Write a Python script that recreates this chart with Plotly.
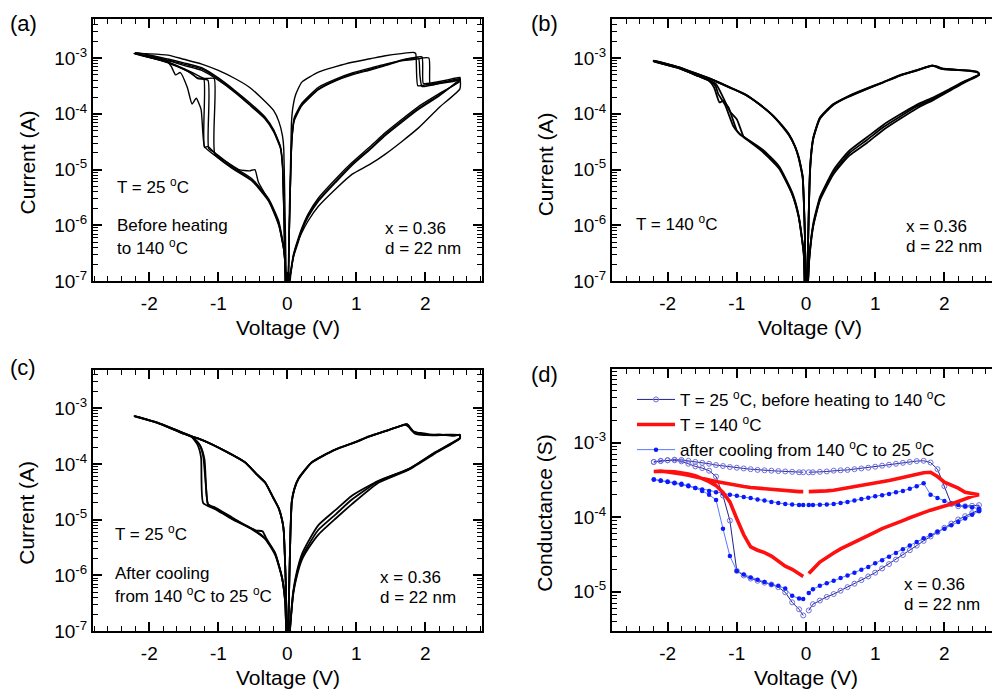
import math
import plotly.graph_objects as go

W, H = 992, 698
FONT = "Arial, 'Liberation Sans', Helvetica, sans-serif"

# Current values at V = 0 sit below the plotted decades (|I| -> 0 on a log axis)
I0 = 2e-8

# ---------------- panel (a): T = 25 C, before heating -----------------
A1_LRSP_V = [0, 0.03, 0.05, 0.06, 0.08, 0.12, 0.21, 0.45, 0.7, 0.94, 1.2, 1.42, 1.65, 1.83, 1.86, 1.89, 2.0, 2.2, 2.4, 2.5]
A1_LRSP_I = [I0, 2e-6, 2e-5, 7e-5, 1.3e-4, 2.2e-4, 3.7e-4, 5.6e-4, 7e-4, 8.4e-4, 9.7e-4, 1.1e-3, 1.2e-3, 1.26e-3, 1.2e-3, 3.2e-4, 3.3e-4, 3.6e-4, 3.9e-4, 4.2e-4]
A1_HRSP_V = [2.5, 2.2, 1.9, 1.66, 1.42, 1.2, 0.94, 0.7, 0.45, 0.3, 0.2, 0.12, 0.07, 0.04, 0]
A1_HRSP_I = [2.8e-4, 1.3e-4, 5.6e-5, 3.2e-5, 1.9e-5, 1.25e-5, 8.3e-6, 4.5e-6, 2.2e-6, 1.2e-6, 7e-7, 4e-7, 2e-7, 1e-7, I0]
A1_HRSN_V = [-0.02, -0.05, -0.125, -0.27, -0.51, -0.8, -1.05, -1.06, -1.2, -1.39, -1.73, -2.22]
A1_HRSN_I = [1e-7, 3.7e-7, 1.1e-6, 2.85e-6, 6.4e-6, 1.1e-5, 1.9e-5, 4.3e-4, 4.3e-4, 5.6e-4, 8.4e-4, 1.2e-3]
A1_LRSN_V = [-2.22, -1.73, -1.5, -1.24, -1.0, -0.76, -0.55, -0.37, -0.2, -0.125, -0.07, -0.053, -0.045, -0.03, -0.015, 0]
A1_LRSN_I = [1.21e-3, 1.13e-3, 9.5e-4, 7.8e-4, 6e-4, 4.3e-4, 3e-4, 1.9e-4, 1.15e-4, 7.4e-5, 4e-5, 2.5e-5, 1e-5, 1e-6, 1e-7, I0]

A_HRSP_V = [2.5, 2.2, 1.9, 1.66, 1.42, 1.2, 0.94, 0.7, 0.45, 0.3, 0.21, 0.15, 0.087, 0.05, 0.02, 0]
A_LRSN_V = [-2.2, -1.73, -1.5, -1.24, -1.0, -0.756, -0.55, -0.32, -0.2, -0.1, -0.07, -0.06, -0.045, -0.03, 0]

A2_LRSP_V = [0, 0.03, 0.05, 0.064, 0.1, 0.21, 0.45, 0.7, 0.94, 1.2, 1.42, 1.66, 1.8, 1.95, 1.97, 2.1, 2.3, 2.5]
A2_LRSP_I = [I0, 1e-6, 1e-5, 3.5e-5, 8e-5, 1.45e-4, 2.8e-4, 4e-4, 5.2e-4, 6.3e-4, 7.5e-4, 9.3e-4, 1.0e-3, 1.05e-3, 3.5e-4, 3.6e-4, 4e-4, 4.5e-4]
A2_HRSP_I = [4e-4, 2.2e-4, 1.26e-4, 7.5e-5, 4.3e-5, 2.4e-5, 1.26e-5, 6.2e-6, 2.85e-6, 1.5e-6, 8.5e-7, 5e-7, 2.8e-7, 1.5e-7, 1e-7, I0]
A2_HRSN_V = [-0.02, -0.052, -0.125, -0.27, -0.51, -0.8, -1.05, -1.14, -1.15, -1.3, -1.39, -1.73, -2.2]
A2_HRSN_I = [1.2e-7, 4e-7, 1.2e-6, 3e-6, 6.8e-6, 1.15e-5, 2e-5, 2.4e-5, 4e-4, 4.3e-4, 5.4e-4, 8.2e-4, 1.2e-3]
A2_LRSN_I = [1.2e-3, 9.2e-4, 7.8e-4, 6.4e-4, 4.2e-4, 2.5e-4, 1.5e-4, 8.3e-5, 5e-5, 2.5e-5, 1.2e-5, 5e-6, 1e-6, 1e-7, I0]

A3_LRSP_V = [0, 0.03, 0.05, 0.07, 0.1, 0.21, 0.45, 0.7, 0.94, 1.2, 1.42, 1.66, 1.85, 2.05, 2.07, 2.2, 2.4, 2.5]
A3_LRSP_I = [I0, 1e-6, 1.1e-5, 4e-5, 8.5e-5, 1.55e-4, 3e-4, 4.2e-4, 5.4e-4, 6.6e-4, 7.8e-4, 9e-4, 9.5e-4, 1.0e-3, 3.3e-4, 3.5e-4, 3.8e-4, 4e-4]
A3_HRSP_I = [3.8e-4, 2.3e-4, 1.35e-4, 8e-5, 4.6e-5, 2.6e-5, 1.35e-5, 6.8e-6, 3.1e-6, 1.6e-6, 9e-7, 5.5e-7, 3e-7, 1.6e-7, 1e-7, I0]
A3_HRSN_V = [-0.02, -0.05, -0.125, -0.27, -0.51, -0.8, -1.05, -1.2, -1.21, -1.3, -1.45, -1.73, -2.2]
A3_HRSN_I = [1e-7, 3.5e-7, 1.0e-6, 2.7e-6, 6.2e-6, 1.05e-5, 1.8e-5, 2.6e-5, 4.2e-4, 4.4e-4, 5.8e-4, 8.4e-4, 1.2e-3]
A3_LRSN_I = [1.2e-3, 9e-4, 7.4e-4, 6e-4, 4e-4, 2.4e-4, 1.45e-4, 8e-5, 4.8e-5, 2.4e-5, 1.1e-5, 4.5e-6, 9e-7, 1e-7, I0]

A4_LRSP_V = [0, 0.03, 0.05, 0.064, 0.1, 0.21, 0.45, 0.7, 0.94, 1.2, 1.42, 1.66, 1.8, 1.9, 1.92, 1.95, 2.1, 2.3, 2.5]
A4_LRSP_I = [I0, 1e-6, 1e-5, 3.2e-5, 7.5e-5, 1.4e-4, 2.7e-4, 3.9e-4, 5e-4, 6.1e-4, 7.3e-4, 9e-4, 9.8e-4, 1.0e-3, 5e-4, 3.1e-4, 3.3e-4, 3.8e-4, 4.3e-4]
A4_HRSP_I = [4.2e-4, 2.1e-4, 1.2e-4, 7.1e-5, 4.1e-5, 2.3e-5, 1.2e-5, 5.9e-6, 2.7e-6, 1.4e-6, 8e-7, 4.7e-7, 2.7e-7, 1.4e-7, 1e-7, I0]
A4_HRSN_V = [-0.02, -0.05, -0.125, -0.27, -0.42, -0.47, -0.55, -0.7, -0.85, -1.0, -1.15, -1.2, -1.25, -1.32, -1.38, -1.45, -1.55, -1.62, -1.68, -1.75, -2.2]
A4_HRSN_I = [1e-7, 3.5e-7, 1.05e-6, 2.8e-6, 6e-6, 1e-5, 9.5e-6, 1e-5, 1.3e-5, 1.7e-5, 2.6e-5, 2.5e-5, 1.2e-4, 1.9e-4, 1.5e-4, 3e-4, 5.5e-4, 5e-4, 7e-4, 9e-4, 1.2e-3]
A4_LRSN_I = [1.25e-3, 9.6e-4, 8.2e-4, 6.7e-4, 4.4e-4, 2.6e-4, 1.6e-4, 8.7e-5, 5.2e-5, 2.6e-5, 1.3e-5, 5.5e-6, 1.1e-6, 1e-7, I0]

# ---------------- panel (b): T = 140 C -----------------
B_HRSP_V = [2.5, 2.3, 2.08, 1.85, 1.6, 1.35, 1.12, 0.88, 0.63, 0.5, 0.39, 0.3, 0.2, 0.106, 0.048, 0.03, 0]
B_LRSN_V = [-2.2, -1.84, -1.6, -1.36, -1.1, -0.877, -0.68, -0.49, -0.35, -0.25, -0.16, -0.106, -0.07, -0.048, -0.03, -0.015, 0]

B1_LRSP_V = [0, 0.03, 0.045, 0.058, 0.08, 0.106, 0.2, 0.39, 0.6, 0.877, 1.1, 1.36, 1.6, 1.82, 1.9, 1.97, 2.15, 2.36, 2.48, 2.5]
B1_LRSP_I = [I0, 5e-7, 3e-6, 9.5e-6, 2.2e-5, 3.7e-5, 8.3e-5, 1.45e-4, 2e-4, 2.8e-4, 3.6e-4, 4.9e-4, 6e-4, 7.3e-4, 7e-4, 6.4e-4, 6.2e-4, 6e-4, 5.6e-4, 5.2e-4]
B1_HRSP_I = [5e-4, 3.9e-4, 2.8e-4, 2e-4, 1.45e-4, 9.6e-5, 6.4e-5, 3.8e-5, 2.2e-5, 1.45e-5, 9.5e-6, 5.8e-6, 3.2e-6, 1.1e-6, 2.8e-7, 1e-7, I0]
B1_HRSN_V = [-0.02, -0.033, -0.106, -0.2, -0.39, -0.63, -0.877, -0.97, -1.05, -1.17, -1.27, -1.31, -1.41, -1.6, -1.84, -2.2]
B1_HRSN_I = [1e-7, 3.2e-7, 1.45e-6, 3.7e-6, 1.1e-5, 2.2e-5, 3.7e-5, 4.5e-5, 6e-5, 1.45e-4, 2.3e-4, 3.2e-4, 4e-4, 5e-4, 6.6e-4, 8.8e-4]
B1_LRSN_I = [8.9e-4, 6.8e-4, 5.3e-4, 4.1e-4, 2.95e-4, 2.2e-4, 1.5e-4, 9.6e-5, 6.2e-5, 4.3e-5, 2.6e-5, 1.65e-5, 1.05e-5, 7.4e-6, 2.5e-6, 6e-7, I0]

B2_LRSP_V = [0, 0.03, 0.045, 0.058, 0.08, 0.106, 0.2, 0.39, 0.6, 0.877, 1.1, 1.36, 1.6, 1.8, 1.88, 1.97, 2.2, 2.4, 2.48, 2.5]
B2_LRSP_I = [I0, 5e-7, 3.2e-6, 1e-5, 2.3e-5, 3.8e-5, 8.5e-5, 1.48e-4, 2.05e-4, 2.85e-4, 3.65e-4, 4.95e-4, 6.1e-4, 7.2e-4, 7.1e-4, 6.5e-4, 6.1e-4, 5.8e-4, 5.5e-4, 5.3e-4]
B2_HRSP_I = [5.1e-4, 3.8e-4, 2.7e-4, 1.9e-4, 1.35e-4, 8.8e-5, 5.8e-5, 3.4e-5, 2e-5, 1.3e-5, 8.6e-6, 5.3e-6, 2.9e-6, 1e-6, 2.6e-7, 1e-7, I0]
B2_HRSN_V = [-0.02, -0.033, -0.106, -0.2, -0.39, -0.63, -0.877, -0.95, -1.0, -1.12, -1.2, -1.25, -1.33, -1.41, -1.6, -1.84, -2.2]
B2_HRSN_I = [1e-7, 3.3e-7, 1.5e-6, 3.9e-6, 1.15e-5, 2.3e-5, 3.7e-5, 4.2e-5, 5e-5, 1.3e-4, 1.7e-4, 1.6e-4, 3e-4, 4e-4, 5e-4, 6.6e-4, 8.7e-4]
B2_LRSN_I = [8.8e-4, 6.8e-4, 5.3e-4, 4.1e-4, 2.95e-4, 2.2e-4, 1.5e-4, 9.5e-5, 6.1e-5, 4.2e-5, 2.6e-5, 1.6e-5, 1e-5, 7e-6, 2.3e-6, 5.5e-7, I0]

B3_LRSP_V = [0, 0.03, 0.045, 0.058, 0.08, 0.106, 0.2, 0.39, 0.6, 0.877, 1.1, 1.36, 1.6, 1.83, 1.92, 2.0, 2.2, 2.38, 2.46, 2.5]
B3_LRSP_I = [I0, 4.8e-7, 2.9e-6, 9.2e-6, 2.1e-5, 3.6e-5, 8.1e-5, 1.43e-4, 1.98e-4, 2.78e-4, 3.58e-4, 4.85e-4, 5.95e-4, 7.35e-4, 6.6e-4, 6.3e-4, 6.1e-4, 5.9e-4, 5.7e-4, 5.2e-4]
B3_HRSP_I = [4.9e-4, 3.7e-4, 2.6e-4, 1.8e-4, 1.25e-4, 8e-5, 5.2e-5, 3e-5, 1.8e-5, 1.2e-5, 8e-6, 5e-6, 2.8e-6, 1e-6, 2.5e-7, 1e-7, I0]
B3_HRSN_V = [-0.02, -0.033, -0.106, -0.2, -0.39, -0.63, -0.877, -0.9, -1.0, -1.1, -1.2, -1.3, -1.41, -1.6, -1.84, -2.2]
B3_HRSN_I = [1e-7, 3.1e-7, 1.4e-6, 3.6e-6, 1.05e-5, 2.1e-5, 3.6e-5, 3.8e-5, 8e-5, 1.1e-4, 2e-4, 3.4e-4, 4e-4, 5e-4, 6.7e-4, 8.9e-4]
B3_LRSN_I = [9e-4, 6.9e-4, 5.35e-4, 4.15e-4, 3e-4, 2.25e-4, 1.52e-4, 9.7e-5, 6.3e-5, 4.4e-5, 2.65e-5, 1.7e-5, 1.07e-5, 7.6e-6, 2.6e-6, 6.2e-7, I0]

# ---------------- panel (c): T = 25 C, after cooling -----------------
C_HRSP_V = [2.5, 2.14, 1.76, 1.32, 0.935, 0.7, 0.45, 0.3, 0.21, 0.14, 0.087, 0.04, 0]
C_LRSN_V = [-2.215, -1.87, -1.53, -1.24, -0.9, -0.61, -0.45, -0.32, -0.2, -0.125, -0.07, -0.052, -0.035, -0.02, 0]

C1_LRSP_V = [0, 0.03, 0.045, 0.064, 0.1, 0.16, 0.35, 0.69, 1.0, 1.18, 1.45, 1.72, 1.75, 1.83, 1.93, 2.14, 2.3, 2.5]
C1_LRSP_I = [I0, 1e-6, 6e-6, 2.1e-5, 3.5e-5, 5.4e-5, 1.06e-4, 1.8e-4, 2.5e-4, 3.1e-4, 4e-4, 5.2e-4, 5e-4, 3.8e-4, 3.6e-4, 3.3e-4, 3.3e-4, 3.3e-4]
C1_HRSP_I = [2.9e-4, 1.6e-4, 8.1e-5, 5e-5, 2.7e-5, 1.5e-5, 8e-6, 4e-6, 2.4e-6, 1.2e-6, 5.4e-7, 1.2e-7, I0]
C1_HRSN_V = [-0.03, -0.077, -0.174, -0.32, -0.51, -0.8, -1.045, -1.15, -1.2, -1.26, -1.38, -1.53, -1.87, -2.215]
C1_HRSN_I = [3.2e-7, 9.1e-7, 2.4e-6, 4.6e-6, 6.9e-6, 1.05e-5, 1.6e-5, 1.9e-5, 1.2e-4, 2.1e-4, 3.1e-4, 3.7e-4, 5.4e-4, 7.2e-4]
C1_LRSN_I = [7.2e-4, 5.4e-4, 3.6e-4, 2.7e-4, 1.7e-4, 1.06e-4, 6.6e-5, 4.6e-5, 2.4e-5, 1.6e-5, 9e-6, 6.2e-6, 2e-6, 5.4e-7, I0]

C2_LRSP_V = [0, 0.03, 0.045, 0.064, 0.1, 0.16, 0.35, 0.69, 1.0, 1.18, 1.45, 1.7, 1.74, 1.8, 1.95, 2.1, 2.3, 2.5]
C2_LRSP_I = [I0, 1e-6, 6.2e-6, 2.15e-5, 3.6e-5, 5.5e-5, 1.07e-4, 1.82e-4, 2.52e-4, 3.12e-4, 4.02e-4, 5.1e-4, 5.15e-4, 4e-4, 3.4e-4, 3.25e-4, 3.35e-4, 3.3e-4]
C2_HRSP_I = [2.85e-4, 1.55e-4, 7.9e-5, 4.6e-5, 1.9e-5, 1.05e-5, 5.4e-6, 3e-6, 1.9e-6, 1e-6, 4.8e-7, 1.1e-7, I0]
C2_HRSN_V = [-0.03, -0.077, -0.174, -0.32, -0.51, -0.8, -1.045, -1.22, -1.25, -1.3, -1.38, -1.53, -1.87, -2.215]
C2_HRSN_I = [3.1e-7, 9e-7, 2.3e-6, 4.5e-6, 6.7e-6, 1.02e-5, 1.55e-5, 2e-5, 1.3e-4, 2.2e-4, 3.0e-4, 3.65e-4, 5.4e-4, 7.2e-4]
C2_LRSN_I = [7.2e-4, 5.45e-4, 3.62e-4, 2.72e-4, 1.71e-4, 1.07e-4, 6.7e-5, 4.65e-5, 2.45e-5, 1.62e-5, 9.2e-6, 6.3e-6, 2.1e-6, 5.6e-7, I0]

C3_LRSP_V = [0, 0.03, 0.045, 0.064, 0.1, 0.16, 0.35, 0.69, 1.0, 1.18, 1.45, 1.71, 1.76, 1.85, 2.0, 2.2, 2.4, 2.5]
C3_LRSP_I = [I0, 1e-6, 5.8e-6, 2.05e-5, 3.45e-5, 5.3e-5, 1.05e-4, 1.79e-4, 2.48e-4, 3.08e-4, 3.98e-4, 5.05e-4, 4.6e-4, 3.5e-4, 3.3e-4, 3.4e-4, 3.2e-4, 3.35e-4]
C3_HRSP_I = [2.95e-4, 1.62e-4, 8.2e-5, 4.9e-5, 2.3e-5, 1.25e-5, 6.6e-6, 3.4e-6, 2.1e-6, 1.1e-6, 5e-7, 1.15e-7, I0]
C3_HRSN_V = [-0.03, -0.077, -0.174, -0.3, -0.36, -0.45, -0.55, -0.8, -1.045, -1.15, -1.18, -1.22, -1.28, -1.38, -1.53, -1.87, -2.215]
C3_HRSN_I = [3.3e-7, 9.2e-7, 2.5e-6, 4.5e-6, 6.2e-6, 6.4e-6, 7.2e-6, 1.1e-5, 1.65e-5, 1.9e-5, 4e-5, 1.4e-4, 2.3e-4, 3.05e-4, 3.7e-4, 5.4e-4, 7.2e-4]
C3_LRSN_I = [7.25e-4, 5.4e-4, 3.6e-4, 2.7e-4, 1.7e-4, 1.06e-4, 6.6e-5, 4.6e-5, 2.4e-5, 1.6e-5, 9e-6, 6.2e-6, 2e-6, 5.4e-7, I0]

# ---------------- panel (d): conductance I/V -----------------
VP = [0.04, 0.1, 0.2, 0.3, 0.4, 0.5, 0.6, 0.7, 0.8, 0.9, 1.0, 1.1, 1.2, 1.3, 1.4, 1.5, 1.6, 1.7, 1.8, 1.9, 2.0, 2.1, 2.2, 2.3, 2.4, 2.5]
VN = [0.04, 0.1, 0.2, 0.3, 0.4, 0.5, 0.6, 0.7, 0.8, 0.9, 1.0, 1.1, 1.2, 1.3, 1.4, 1.5, 1.6, 1.7, 1.8, 1.9, 2.0, 2.1, 2.2]

G25_UP_P = [4.0e-4, 4.0e-4, 4.05e-4, 4.1e-4, 4.2e-4, 4.25e-4, 4.3e-4, 4.4e-4, 4.5e-4, 4.6e-4, 4.75e-4, 4.9e-4, 5.05e-4, 5.2e-4, 5.35e-4, 5.5e-4, 5.65e-4, 5.7e-4, 5.4e-4, 4.4e-4, 2.6e-4, 1.5e-4, 1.4e-4, 1.4e-4, 1.42e-4, 1.45e-4]
G25_LO_P = [5.6e-6, 6.8e-6, 7.6e-6, 8.5e-6, 9.3e-6, 1.03e-5, 1.15e-5, 1.28e-5, 1.43e-5, 1.6e-5, 1.8e-5, 2.05e-5, 2.35e-5, 2.7e-5, 3.1e-5, 3.6e-5, 4.15e-5, 4.8e-5, 5.5e-5, 6.3e-5, 7.2e-5, 8.2e-5, 9.3e-5, 1.03e-4, 1.13e-4, 1.25e-4]
G25_LO_N = [4.8e-6, 5.8e-6, 7.2e-6, 9.8e-6, 1.15e-5, 1.25e-5, 1.32e-5, 1.4e-5, 1.5e-5, 1.65e-5, 1.9e-5, 9e-5, 1.95e-4, 3.5e-4, 4.2e-4, 4.55e-4, 4.8e-4, 5.2e-4, 5.6e-4, 5.8e-4, 5.8e-4, 5.7e-4, 5.5e-4]
G25_UP_N = [4.0e-4, 4.0e-4, 4.05e-4, 4.1e-4, 4.15e-4, 4.2e-4, 4.25e-4, 4.3e-4, 4.4e-4, 4.5e-4, 4.6e-4, 4.7e-4, 4.85e-4, 5.0e-4, 5.2e-4, 5.35e-4, 5.5e-4, 5.7e-4, 5.85e-4, 5.9e-4, 5.8e-4, 5.65e-4, 5.5e-4]

G140_UP_P = [2.2e-4, 2.2e-4, 2.22e-4, 2.25e-4, 2.3e-4, 2.38e-4, 2.47e-4, 2.55e-4, 2.65e-4, 2.75e-4, 2.85e-4, 2.97e-4, 3.1e-4, 3.25e-4, 3.4e-4, 3.55e-4, 3.75e-4, 3.95e-4, 4.0e-4, 3.5e-4, 2.95e-4, 2.7e-4, 2.45e-4, 2.15e-4, 2.05e-4, 2.0e-4]
G140_LO_P = [1.75e-5, 2.0e-5, 2.5e-5, 2.9e-5, 3.3e-5, 3.75e-5, 4.15e-5, 4.6e-5, 5.1e-5, 5.7e-5, 6.3e-5, 7.0e-5, 7.6e-5, 8.3e-5, 9.0e-5, 9.8e-5, 1.07e-4, 1.15e-4, 1.24e-4, 1.33e-4, 1.42e-4, 1.5e-4, 1.62e-4, 1.78e-4, 1.9e-4, 2.0e-4]
G140_LO_N = [1.6e-5, 1.75e-5, 2.0e-5, 2.2e-5, 2.55e-5, 3.0e-5, 3.35e-5, 3.6e-5, 4.0e-5, 5.8e-5, 9.5e-5, 1.6e-4, 2.15e-4, 2.65e-4, 3.0e-4, 3.3e-4, 3.6e-4, 3.8e-4, 3.95e-4, 4.05e-4, 4.1e-4, 4.1e-4, 4.1e-4]
G140_UP_N = [2.2e-4, 2.2e-4, 2.22e-4, 2.25e-4, 2.3e-4, 2.35e-4, 2.4e-4, 2.45e-4, 2.5e-4, 2.58e-4, 2.67e-4, 2.77e-4, 2.9e-4, 3.0e-4, 3.15e-4, 3.3e-4, 3.45e-4, 3.65e-4, 3.8e-4, 3.95e-4, 4.05e-4, 4.15e-4, 4.2e-4]

GC_UP_P = [1.45e-4, 1.45e-4, 1.47e-4, 1.48e-4, 1.5e-4, 1.55e-4, 1.6e-4, 1.67e-4, 1.75e-4, 1.82e-4, 1.9e-4, 1.97e-4, 2.05e-4, 2.15e-4, 2.25e-4, 2.4e-4, 2.6e-4, 2.85e-4, 2.0e-4, 1.8e-4, 1.65e-4, 1.52e-4, 1.45e-4, 1.4e-4, 1.35e-4, 1.3e-4]
GC_LO_P = [9.6e-6, 1.08e-5, 1.2e-5, 1.3e-5, 1.4e-5, 1.52e-5, 1.65e-5, 1.8e-5, 1.97e-5, 2.15e-5, 2.4e-5, 2.65e-5, 2.95e-5, 3.3e-5, 3.7e-5, 4.15e-5, 4.65e-5, 5.2e-5, 5.75e-5, 6.35e-5, 7.0e-5, 7.8e-5, 8.6e-5, 9.6e-5, 1.08e-4, 1.2e-4]
GC_LO_N = [8.0e-6, 8.1e-6, 8.8e-6, 1.1e-5, 1.2e-5, 1.25e-5, 1.35e-5, 1.45e-5, 1.55e-5, 1.7e-5, 1.9e-5, 3.0e-5, 7.0e-5, 1.7e-4, 2.0e-4, 2.25e-4, 2.45e-4, 2.65e-4, 2.8e-4, 2.9e-4, 3.0e-4, 3.1e-4, 3.2e-4]
GC_UP_N = [1.45e-4, 1.46e-4, 1.48e-4, 1.5e-4, 1.55e-4, 1.6e-4, 1.67e-4, 1.73e-4, 1.8e-4, 1.86e-4, 1.93e-4, 2.0e-4, 2.07e-4, 2.15e-4, 2.25e-4, 2.35e-4, 2.45e-4, 2.6e-4, 2.72e-4, 2.85e-4, 2.95e-4, 3.08e-4, 3.2e-4]

IV_DECADES = [1e-7, 1e-6, 1e-5, 1e-4, 1e-3]
G_DECADES = [1e-5, 1e-4, 1e-3]
X_TICKS = [-2, -1, 0, 1, 2]
X_TEXT = ["-2", "-1", "0", "1", "2"]
X_MINOR = [-2.8, -2.6, -2.4, -2.2, -1.8, -1.6, -1.4, -1.2, -0.8, -0.6, -0.4, -0.2,
           0.2, 0.4, 0.6, 0.8, 1.2, 1.4, 1.6, 1.8, 2.2, 2.4, 2.6, 2.8]


def px(x):
    return x / W


def py(y):
    return 1 - y / H


def loop(*branches):
    """Join (V, I) branch pairs of one sweep cycle into one polyline."""
    xs, ys = [], []
    for v, i in branches:
        for a, b in zip(v, i):
            xs.append(a)
            ys.append(b)
    return xs, ys


fig = go.Figure()

# (main x, main y, minor-tick x, minor-tick y) axis ids per panel
AX = {"a": ("x", "y", "x5", "y5"), "b": ("x2", "y2", "x6", "y6"),
      "c": ("x3", "y3", "x7", "y7"), "d": ("x4", "y4", "x8", "y8")}

panels = {
    "a": ([
        ((A1_LRSP_V, A1_LRSP_I), (A1_HRSP_V, A1_HRSP_I), (A1_HRSN_V, A1_HRSN_I), (A1_LRSN_V, A1_LRSN_I)),
        ((A2_LRSP_V, A2_LRSP_I), (A_HRSP_V, A2_HRSP_I), (A2_HRSN_V, A2_HRSN_I), (A_LRSN_V, A2_LRSN_I)),
        ((A3_LRSP_V, A3_LRSP_I), (A_HRSP_V, A3_HRSP_I), (A3_HRSN_V, A3_HRSN_I), (A_LRSN_V, A3_LRSN_I)),
        ((A4_LRSP_V, A4_LRSP_I), (A_HRSP_V, A4_HRSP_I), (A4_HRSN_V, A4_HRSN_I), (A_LRSN_V, A4_LRSN_I)),
    ], 1.4),
    "b": ([
        ((B1_LRSP_V, B1_LRSP_I), (B_HRSP_V, B1_HRSP_I), (B1_HRSN_V, B1_HRSN_I), (B_LRSN_V, B1_LRSN_I)),
        ((B2_LRSP_V, B2_LRSP_I), (B_HRSP_V, B2_HRSP_I), (B2_HRSN_V, B2_HRSN_I), (B_LRSN_V, B2_LRSN_I)),
        ((B3_LRSP_V, B3_LRSP_I), (B_HRSP_V, B3_HRSP_I), (B3_HRSN_V, B3_HRSN_I), (B_LRSN_V, B3_LRSN_I)),
    ], 1.8),
    "c": ([
        ((C1_LRSP_V, C1_LRSP_I), (C_HRSP_V, C1_HRSP_I), (C1_HRSN_V, C1_HRSN_I), (C_LRSN_V, C1_LRSN_I)),
        ((C2_LRSP_V, C2_LRSP_I), (C_HRSP_V, C2_HRSP_I), (C2_HRSN_V, C2_HRSN_I), (C_LRSN_V, C2_LRSN_I)),
        ((C3_LRSP_V, C3_LRSP_I), (C_HRSP_V, C3_HRSP_I), (C3_HRSN_V, C3_HRSN_I), (C_LRSN_V, C3_LRSN_I)),
    ], 1.8),
}

for key, (cycles, lw) in panels.items():
    xa, ya, xm, ym = AX[key]
    for k, cyc in enumerate(cycles):
        xs, ys = loop(*cyc)
        # the last cycle sits on the overlay axes that carry the minor ticks
        on_minor = k == len(cycles) - 1
        fig.add_trace(go.Scatter(x=xs, y=ys, mode="lines",
                                 xaxis=xm if on_minor else xa, yaxis=ym if on_minor else ya,
                                 line=dict(color="black", width=lw, shape="spline", smoothing=0.5),
                                 showlegend=False, hoverinfo="skip"))


def conductance_loop(up_p, lo_p, lo_n, up_n):
    xs = VP + VP[::-1] + [None] + [-v for v in VN] + [-v for v in VN[::-1]]
    ys = up_p + lo_p[::-1] + [None] + lo_n + up_n[::-1]
    return xs, ys


x1, y1 = conductance_loop(G25_UP_P, G25_LO_P, G25_LO_N, G25_UP_N)
x2, y2 = conductance_loop(G140_UP_P, G140_LO_P, G140_LO_N, G140_UP_N)
x3, y3 = conductance_loop(GC_UP_P, GC_LO_P, GC_LO_N, GC_UP_N)

fig.add_trace(go.Scatter(
    x=x1, y=y1, xaxis="x4", yaxis="y4", mode="lines+markers", legendrank=1,
    name="T = 25 <sup>o</sup>C, before heating to 140 <sup>o</sup>C",
    line=dict(color="#22228f", width=1),
    marker=dict(symbol="circle-open", size=5, color="#6e6ee0", line=dict(width=1, color="#6e6ee0"))))
fig.add_trace(go.Scatter(
    x=x3, y=y3, xaxis="x4", yaxis="y4", mode="lines+markers", legendrank=3,
    name="after cooling from 140 <sup>o</sup>C to 25 <sup>o</sup>C",
    line=dict(color="#5a78ff", width=1),
    marker=dict(symbol="circle", size=4.5, color="#0a1aff")))
fig.add_trace(go.Scatter(
    x=x2, y=y2, xaxis="x8", yaxis="y8", mode="lines", legendrank=2,
    name="T = 140 <sup>o</sup>C",
    line=dict(color="#ff1010", width=3.6)))

# ---------------- axes -----------------
tickfont = dict(family=FONT, size=19, color="black")


def x_axis(domain, rng, anchor):
    return dict(domain=domain, range=rng, anchor=anchor, tickmode="array",
                tickvals=X_TICKS, ticktext=X_TEXT, ticks="inside", ticklen=9,
                tickwidth=1.5, tickcolor="black", showline=True, linewidth=1.6,
                linecolor="black", mirror="allticks", showgrid=False, zeroline=False,
                tickfont=tickfont, ticklabelstandoff=4)


def x_minor(base, anchor, rng):
    return dict(overlaying=base, anchor=anchor, range=rng, tickmode="array",
                tickvals=X_MINOR, ticks="inside", ticklen=5, tickwidth=1.2,
                tickcolor="black", showticklabels=False, showline=True, linewidth=1.6,
                linecolor="black", mirror="allticks", showgrid=False, zeroline=False)


def y_axis(domain, rng, anchor, decades, mirror):
    return dict(domain=domain, range=rng, anchor=anchor, type="log", tickmode="array",
                tickvals=decades,
                ticktext=["10<sup>%d</sup>" % round(math.log10(v)) for v in decades],
                ticks="inside", ticklen=9, tickwidth=1.5, tickcolor="black",
                showline=True, linewidth=1.6, linecolor="black", mirror=mirror,
                showgrid=False, zeroline=False, tickfont=tickfont, ticklabelstandoff=0)


def y_minor(base, anchor, rng, mirror):
    lo, hi = int(math.floor(rng[0])) - 1, int(math.ceil(rng[1])) + 1
    vals = [m * 10.0 ** e for e in range(lo, hi) for m in range(2, 10)]
    return dict(overlaying=base, anchor=anchor, range=rng, type="log", tickmode="array",
                tickvals=vals, ticks="inside", ticklen=5, tickwidth=1.2, tickcolor="black",
                showticklabels=False, showline=True, linewidth=1.6, linecolor="black",
                mirror=mirror, showgrid=False, zeroline=False)


XD_L = [px(92.7), px(482)]
XD_R = [px(611.7), 1.0]
YD_T = [py(285.7), py(19.3)]
YR_IV = [-7, -2.3]
YR_IVC = [-7, -2.31]
YR_G = [-5.53, -2.01]
XR_L = [-2.82, 2.82]
XR_R = [-2.808, 2.688]

fig.update_layout(
    xaxis=x_axis(XD_L, XR_L, "y"),
    yaxis=y_axis(YD_T, YR_IV, "x", IV_DECADES, "allticks"),
    xaxis2=x_axis(XD_R, XR_R, "y2"),
    yaxis2=y_axis(YD_T, YR_IV, "x2", IV_DECADES, False),
    xaxis3=x_axis(XD_L, XR_L, "y3"),
    yaxis3=y_axis([py(641.3), py(375.7)], YR_IVC, "x3", IV_DECADES, "allticks"),
    xaxis4=x_axis(XD_R, XR_R, "y4"),
    yaxis4=y_axis([py(641.3), py(374.7)], YR_G, "x4", G_DECADES, False),
    xaxis5=x_minor("x", "y5", XR_L), yaxis5=y_minor("y", "x5", YR_IV, "allticks"),
    xaxis6=x_minor("x2", "y6", XR_R), yaxis6=y_minor("y2", "x6", YR_IV, False),
    xaxis7=x_minor("x3", "y7", XR_L), yaxis7=y_minor("y3", "x7", YR_IVC, "allticks"),
    xaxis8=x_minor("x4", "y8", XR_R), yaxis8=y_minor("y4", "x8", YR_G, False),
)

# ---------------- text -----------------
ann = []


def text(x, y, s, size=17, xanchor="left", angle=0):
    ann.append(dict(x=px(x), y=py(y), xref="paper", yref="paper", text=s, showarrow=False,
                    xanchor=xanchor, yanchor="middle", textangle=angle,
                    font=dict(family=FONT, size=size, color="black")))


# panel letters
text(8, 24, "(a)", size=22)
text(529, 24, "(b)", size=22)
text(8, 373, "(c)", size=22)
text(529, 380, "(d)", size=22)

# axis titles
for cx, cy in [(287.5, 333), (810, 333), (287.5, 688), (806, 688)]:
    text(cx, cy, "Voltage (V)", size=21, xanchor="center")
text(27, 165, "Current (A)", size=21, xanchor="center", angle=-90)
text(545, 167, "Current (A)", size=21, xanchor="center", angle=-90)
text(27, 521, "Current (A)", size=21, xanchor="center", angle=-90)
text(545, 521, "Conductance (S)", size=21, xanchor="center", angle=-90)

# in-panel notes
text(115, 189, "T = 25 <sup>o</sup>C")
text(115, 229, "Before heating")
text(115, 251, "to 140 <sup>o</sup>C")
text(383, 232, "x = 0.36")
text(383, 252, "d = 22 nm")

text(634, 227, "T = 140 <sup>o</sup>C")
text(904, 230, "x = 0.36")
text(904, 250, "d = 22 nm")

text(113, 542, "T = 25 <sup>o</sup>C")
text(113, 583, "After cooling")
text(113, 605, "from 140 <sup>o</sup>C to 25 <sup>o</sup>C")
text(378, 587, "x = 0.36")
text(378, 607, "d = 22 nm")

text(902, 594, "x = 0.36")
text(902, 614, "d = 22 nm")

fig.update_layout(
    width=W, height=H, margin=dict(l=0, r=0, t=0, b=0),
    paper_bgcolor="white", plot_bgcolor="white",
    font=dict(family=FONT, color="black"),
    annotations=ann,
    legend=dict(x=px(632), y=py(388), xanchor="left", yanchor="top",
                bgcolor="rgba(0,0,0,0)", font=dict(family=FONT, size=17, color="black"),
                itemwidth=38, tracegroupgap=0),
)

fig.write_html("out.html")
